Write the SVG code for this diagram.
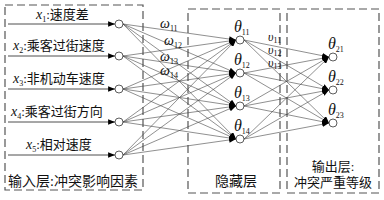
<svg xmlns="http://www.w3.org/2000/svg" width="384" height="200" viewBox="0 0 384 200">
<defs>
<marker id="ah" viewBox="0 0 10 8" refX="10" refY="4" markerWidth="7" markerHeight="5.5" markerUnits="userSpaceOnUse" orient="auto">
<path d="M0,0 L10,4 L0,8 Z" fill="#000"/>
</marker>
</defs>
<style>
.box{fill:none;stroke:#555;stroke-width:1.2;stroke-dasharray:8,4}
.node{fill:#fff;stroke:#333;stroke-width:0.8}
.c{stroke:#444;stroke-width:0.6;fill:none;marker-end:url(#ah)}
.in{stroke:#222;stroke-width:0.8;fill:none;marker-end:url(#ah)}
.t{font-family:"Liberation Serif","Noto Sans CJK SC",serif;font-size:13px;fill:#111}
.v{font-family:"Liberation Serif",serif;font-style:italic;font-size:14px;fill:#111}
.th{font-family:"Liberation Serif",serif;font-style:italic;font-size:16px;fill:#111}
.u{font-family:"Liberation Serif",serif;font-style:italic;font-size:12px;fill:#111}
.s{font-family:"Liberation Serif",serif;font-style:normal;font-size:8px;fill:#111}
</style>
<g id="boxes">
<rect class="box" x="5" y="5" width="138" height="185"/>
<rect class="box" x="188" y="9" width="92" height="184"/>
<rect class="box" x="287" y="9" width="92" height="184"/>
</g>
<g id="connectors">
<line class="in" x1="8" y1="24" x2="115" y2="24"/>
<line class="in" x1="8" y1="56" x2="115" y2="56"/>
<line class="in" x1="8" y1="89" x2="115" y2="89"/>
<line class="in" x1="8" y1="122" x2="115" y2="122"/>
<line class="in" x1="8" y1="155" x2="115" y2="155"/>
<line class="c" x1="123" y1="24" x2="236" y2="40"/>
<line class="c" x1="123" y1="24" x2="236" y2="73"/>
<line class="c" x1="123" y1="24" x2="236" y2="106"/>
<line class="c" x1="123" y1="24" x2="236" y2="139"/>
<line class="c" x1="123" y1="56" x2="236" y2="40"/>
<line class="c" x1="123" y1="56" x2="236" y2="73"/>
<line class="c" x1="123" y1="56" x2="236" y2="106"/>
<line class="c" x1="123" y1="56" x2="236" y2="139"/>
<line class="c" x1="123" y1="89" x2="236" y2="40"/>
<line class="c" x1="123" y1="89" x2="236" y2="73"/>
<line class="c" x1="123" y1="89" x2="236" y2="106"/>
<line class="c" x1="123" y1="89" x2="236" y2="139"/>
<line class="c" x1="123" y1="122" x2="236" y2="40"/>
<line class="c" x1="123" y1="122" x2="236" y2="73"/>
<line class="c" x1="123" y1="122" x2="236" y2="106"/>
<line class="c" x1="123" y1="122" x2="236" y2="139"/>
<line class="c" x1="123" y1="155" x2="236" y2="40"/>
<line class="c" x1="123" y1="155" x2="236" y2="73"/>
<line class="c" x1="123" y1="155" x2="236" y2="106"/>
<line class="c" x1="123" y1="155" x2="236" y2="139"/>
<line class="c" x1="244" y1="40" x2="329" y2="57"/>
<line class="c" x1="244" y1="40" x2="329" y2="90"/>
<line class="c" x1="244" y1="40" x2="329" y2="123"/>
<line class="c" x1="244" y1="73" x2="329" y2="57"/>
<line class="c" x1="244" y1="73" x2="329" y2="90"/>
<line class="c" x1="244" y1="73" x2="329" y2="123"/>
<line class="c" x1="244" y1="106" x2="329" y2="57"/>
<line class="c" x1="244" y1="106" x2="329" y2="90"/>
<line class="c" x1="244" y1="106" x2="329" y2="123"/>
<line class="c" x1="244" y1="139" x2="329" y2="57"/>
<line class="c" x1="244" y1="139" x2="329" y2="90"/>
<line class="c" x1="244" y1="139" x2="329" y2="123"/>
</g>
<g id="x1"><circle class="node" cx="119" cy="24" r="4"/><text class="t" x="36" y="19"><tspan class="v">x</tspan><tspan class="s" dy="3">1</tspan><tspan dy="-3">:速度差</tspan></text></g>
<g id="x2"><circle class="node" cx="119" cy="56" r="4"/><text class="t" x="13" y="50"><tspan class="v">x</tspan><tspan class="s" dy="3">2</tspan><tspan dy="-3">:乘客过街速度</tspan></text></g>
<g id="x3"><circle class="node" cx="119" cy="89" r="4"/><text class="t" x="13" y="83"><tspan class="v">x</tspan><tspan class="s" dy="3">3</tspan><tspan dy="-3">:非机动车速度</tspan></text></g>
<g id="x4"><circle class="node" cx="119" cy="122" r="4"/><text class="t" x="11" y="116"><tspan class="v">x</tspan><tspan class="s" dy="3">4</tspan><tspan dy="-3">:乘客过街方向</tspan></text></g>
<g id="x5"><circle class="node" cx="119" cy="155" r="4"/><text class="t" x="26" y="149"><tspan class="v">x</tspan><tspan class="s" dy="3">5</tspan><tspan dy="-3">:相对速度</tspan></text></g>
<g id="weights">
<text class="v" x="160" y="28">ω<tspan class="s" dy="3">11</tspan></text>
<text class="v" x="164" y="45">ω<tspan class="s" dy="3">12</tspan></text>
<text class="v" x="160" y="61">ω<tspan class="s" dy="3">13</tspan></text>
<text class="v" x="160" y="75">ω<tspan class="s" dy="3">14</tspan></text>
<text class="u" x="268" y="41">υ<tspan class="s" dy="2">11</tspan></text>
<text class="u" x="268" y="54">υ<tspan class="s" dy="2">12</tspan></text>
<text class="u" x="268" y="67">υ<tspan class="s" dy="2">13</tspan></text>
</g>
<g id="h11"><circle class="node" cx="240" cy="40" r="4"/><text class="th" x="234" y="32">θ<tspan class="s" dy="3">11</tspan></text></g>
<g id="h12"><circle class="node" cx="240" cy="73" r="4"/><text class="th" x="234" y="65">θ<tspan class="s" dy="3">12</tspan></text></g>
<g id="h13"><circle class="node" cx="240" cy="106" r="4"/><text class="th" x="234" y="98">θ<tspan class="s" dy="3">13</tspan></text></g>
<g id="h14"><circle class="node" cx="240" cy="139" r="4"/><text class="th" x="234" y="131">θ<tspan class="s" dy="3">14</tspan></text></g>
<g id="o21"><circle class="node" cx="333" cy="57" r="4"/><text class="th" x="328" y="49">θ<tspan class="s" dy="3">21</tspan></text></g>
<g id="o22"><circle class="node" cx="333" cy="90" r="4"/><text class="th" x="328" y="82">θ<tspan class="s" dy="3">22</tspan></text></g>
<g id="o23"><circle class="node" cx="333" cy="123" r="4"/><text class="th" x="328" y="115">θ<tspan class="s" dy="3">23</tspan></text></g>
<g id="labels">
<text class="t" x="8" y="186" style="font-size:14px">输入层:冲突影响因素</text>
<text class="t" x="215" y="186" style="font-size:14px">隐藏层</text>
<text class="t" x="333" y="171" text-anchor="middle">输出层:</text>
<text class="t" x="333" y="187" text-anchor="middle">冲突严重等级</text>
</g>
</svg>
